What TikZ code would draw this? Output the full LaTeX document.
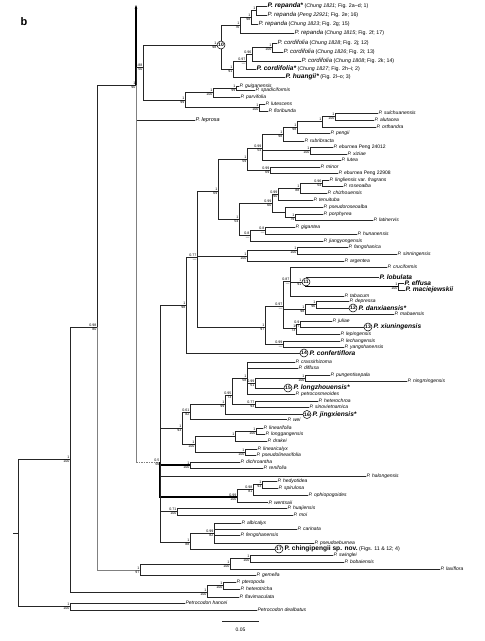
\documentclass[tikz,border=0pt]{standalone}
\usepackage{fontspec}
\setmainfont{Liberation Sans}
\usetikzlibrary{arrows.meta}
\newcommand\spl[3]{\node[spt] (#1-t) at (#1) {#2}; \node[spb] (#1-b) at (#1) {#3};}
\newcommand\ed[2]{\draw[br] (#1) |- (#2.west);}
\newcommand\ei[2]{\draw[br] (#1) |- (#2);}
\newcommand\pa[2]{{\fontsize{5.3}{6}\selectfont\mdseries\upshape\ (\textit{#1}; #2)}}
\begin{document}
\begin{tikzpicture}[x=1pt,y=-1pt,
  br/.style={line width=0.55pt, draw=black!85},
  gbr/.style={line width=0.55pt, draw=black!50},
  tbr/.style={line width=1.3pt, draw=black},
  lf/.style={anchor=west, inner sep=0.4pt, font=\fontsize{5}{6}\selectfont\itshape},
  blf/.style={lf, font=\fontsize{6.6}{7}\selectfont\bfseries\itshape},
  tlf/.style={lf, font=\fontsize{6}{7}\selectfont\itshape},
  spt/.style={anchor=south east, inner sep=0pt, yshift=0.5pt, xshift=-0.4pt, text height=2.6pt, text depth=0pt, font=\fontsize{3.6}{4}\selectfont},
  spb/.style={anchor=north east, inner sep=0pt, yshift=-0.5pt, xshift=-0.4pt, text height=2.6pt, text depth=0pt, font=\fontsize{3.6}{4}\selectfont},
  circ/.style={circle, draw, fill=white, inner sep=0pt, minimum size=8pt, line width=0.5pt, font=\fontsize{5}{5}\selectfont\bfseries}]
\useasboundingbox (0,0) rectangle (485,641);
\node[font=\fontsize{11}{12}\selectfont\bfseries] (lab) at (24,22) {b};
% ---------- internal nodes
\coordinate (rs) at (13,533);
\coordinate (rt) at (18,533);
\coordinate (A70) at (70,459);
\coordinate (PC) at (70,606.5);
\coordinate (N97) at (97,327);
\coordinate (PF) at (207,592);
\coordinate (PH) at (223,585.5);
\coordinate (N140) at (140,570);
\coordinate (BL) at (230,564);
\coordinate (SB) at (250,558.5);
\coordinate (N136) at (136,85);
\coordinate (arr) at (136,5);
\coordinate (pbend) at (136,462);
\coordinate (N143) at (143,67);
\coordinate (N10) at (221,45);
\coordinate (R3) at (240,25);
\coordinate (R2) at (251,17);
\coordinate (R1) at (256,10.5);
\coordinate (C4) at (233,69);
\coordinate (C3) at (246,61);
\coordinate (C2) at (252,54);
\coordinate (C1) at (272,47.5);
\coordinate (G3) at (185,100);
\coordinate (G2) at (213,92);
\coordinate (G1) at (236,88);
\coordinate (LL) at (259,107.5);
\coordinate (P0) at (160,462);
\coordinate (N0) at (186,305);
\coordinate (N1) at (197,257);
\coordinate (T) at (218,191);
\coordinate (U) at (247,159);
\coordinate (W) at (262,148);
\coordinate (Q) at (283,134);
\coordinate (Q1) at (297,127);
\coordinate (Q2) at (322,121);
\coordinate (Q3) at (335,116.5);
\coordinate (E) at (310,150.5);
\coordinate (M) at (270,170);
\coordinate (V) at (239,219);
\coordinate (L0) at (272,203);
\coordinate (L1) at (278,194);
\coordinate (L2) at (300,188);
\coordinate (L3) at (322,183);
\coordinate (L6) at (285,212);
\coordinate (L5) at (295,217);
\coordinate (X) at (250,235.5);
\coordinate (X1) at (265,230.5);
\coordinate (F) at (247,256);
\coordinate (F1) at (297,250.5);
\coordinate (B) at (265,327);
\coordinate (B1) at (283,306);
\coordinate (N87) at (290,281.5);
\coordinate (N11) at (306,282);
\coordinate (EM) at (398,286.5);
\coordinate (D2) at (305,309);
\coordinate (D1) at (316,304.5);
\coordinate (J2) at (296,328.5);
\coordinate (J1) at (300,324);
\coordinate (J3) at (283,344);
\coordinate (K) at (182,428);
\coordinate (K1) at (190,412);
\coordinate (S3) at (225,404.5);
\coordinate (S2) at (232,395);
\coordinate (S1) at (247,378);
\coordinate (PL) at (255,383);
\coordinate (PN) at (305,378);
\coordinate (HS) at (255,404);
\coordinate (K2) at (195,444);
\coordinate (K3) at (235,436);
\coordinate (K5) at (256,431);
\coordinate (K4) at (245,452);
\coordinate (DR) at (190,465);
\coordinate (H) at (237,497);
\coordinate (H2) at (253,489.5);
\coordinate (H1) at (262,484.5);
\coordinate (HJ) at (177,511.5);
\coordinate (A) at (190,542);
\coordinate (A1) at (214,533);
% ---------- leaves
\node[blf] (r1) at (267,6) {P. repanda*\pa{Chung 1821}{Fig. 2a–d; 1}};
\node[tlf] (r2) at (267,15) {P. repanda\pa{Peng 22921}{Fig. 2e; 16}};
\node[tlf] (r3) at (258,24) {P. repanda\pa{Chung 1823}{Fig. 2g; 15}};
\node[tlf] (r4) at (294,33) {P. repanda\pa{Chung 1815}{Fig. 2f; 17}};
\node[tlf] (c1) at (277,43) {P. cordifolia\pa{Chung 1828}{Fig. 2j; 12}};
\node[tlf] (c2) at (283,52) {P. cordifolia\pa{Chung 1826}{Fig. 2i; 13}};
\node[tlf] (c3) at (301,61) {P. cordifolia\pa{Chung 1808}{Fig. 2k; 14}};
\node[blf] (c4) at (256,69) {P. cordifolia*\pa{Chung 1827}{Fig. 2h–i; 2}};
\node[blf] (hu) at (285,77) {P. huangii*{\fontsize{5.3}{6}\selectfont\mdseries\upshape\ (Fig. 2l–o; 3)}};
\node[lf] (gui) at (239,86) {P. guiganensis};
\node[lf] (spa) at (255,90.5) {P. spadiciformis};
\node[lf] (par) at (240,97) {P. parvifolia};
\node[lf] (lut) at (265,104) {P. lutescens};
\node[lf] (flo) at (268,111) {P. floribunda};
\node[lf, font=\fontsize{5.5}{6}\selectfont\itshape] (lep) at (195,120) {P. leprosa};
\node[lf] (sul) at (378,113) {P. sulchuanensis};
\node[lf] (alu) at (374,120) {P. alutacea};
\node[lf] (ort) at (376,127) {P. orthandra};
\node[lf] (pen) at (330,133) {P. pengii};
\node[lf] (rub) at (304,141) {P. rubribracta};
\node[lf] (eb1) at (333,147) {P. eburnea \textup{Peng 24012}};
\node[lf] (xiz) at (347,154) {P. xiziae};
\node[lf] (lte) at (341,160) {P. lutea};
\node[lf] (min) at (320,167) {P. minor};
\node[lf] (eb2) at (338,173) {P. eburnea \textup{Peng 22908}};
\node[lf] (lin) at (329,180) {P. lingliensis \textup{var.} fragrans};
\node[lf] (ros) at (343,186) {P. roseoalba};
\node[lf] (chi) at (327,193) {P. chizhouensis};
\node[lf] (ten) at (313,200) {P. tenuituba};
\node[lf] (psr) at (323,207) {P. pseudoroseoalba};
\node[lf] (por) at (323,214) {P. porphyrea};
\node[lf] (lat) at (373,220) {P. latinervis};
\node[lf] (gig) at (295,227) {P. gigantea};
\node[lf] (hun) at (357,234) {P. hunanensis};
\node[lf] (jia) at (323,241) {P. jiangyongensis};
\node[lf] (fan) at (348,247) {P. fangshanica};
\node[lf] (sin) at (397,254) {P. sinningensis};
\node[lf] (arg) at (344,261) {P. argentea};
\node[lf] (cru) at (387,267) {P. cruciformis};
\node[blf] (lob) at (379,277.5) {P. lobulata};
\node[blf] (eff) at (404,283) {P. effusa};
\node[blf] (mac) at (405,290) {P. maciejewskii};
\node[lf] (tab) at (344,296) {P. tabacum};
\node[lf] (dep) at (349,301) {P. depressa};
\node[circ] (c12) at (353,308) {12};
\node[blf] (dan) at ([xshift=0.8pt]c12.east) {P. danxiaensis*};
\node[lf] (mab) at (394,314) {P. mabaensis};
\node[lf] (jul) at (332,321) {P. juliae};
\node[circ] (c13) at (368,327) {13};
\node[blf] (xiu) at ([xshift=0.8pt]c13.east) {P. xiuningensis};
\node[lf] (lep2) at (340,334) {P. lepingensis};
\node[lf] (lec) at (340,341) {P. lechangensis};
\node[lf] (yan) at (344,347) {P. yangshanensis};
\node[circ] (c14) at (304,353) {14};
\node[blf] (con) at ([xshift=0.8pt]c14.east) {P. confertiflora};
\node[lf] (cra) at (295,362) {P. crassirhizoma};
\node[lf] (dif) at (298,368) {P. diffusa};
\node[lf] (pun) at (330,375) {P. pungentisepala};
\node[lf] (nin) at (407,381) {P. ningmingensis};
\node[circ] (c15) at (288,388) {15};
\node[blf] (lon) at ([xshift=0.8pt]c15.east) {P. longzhouensis*};
\node[lf] (pet) at (295,394) {P. petrocosmeoides};
\node[lf] (het) at (318,401) {P. heterochroa};
\node[lf] (sinv) at (309,407) {P. sinovietnamica};
\node[circ] (c16) at (307,414.5) {16};
\node[blf] (jin) at ([xshift=0.8pt]c16.east) {P. jingxiensis*};
\node[lf] (wei) at (287,419.5) {P. wei};
\node[lf] (lnf) at (263,428) {P. linearifolia};
\node[lf] (lng) at (265,434) {P. longgangensis};
\node[lf] (dra) at (267,441) {P. drakei};
\node[lf] (lcx) at (257,449) {P. linearicalyx};
\node[lf] (pli) at (256,455) {P. pseudolinearifolia};
\node[lf] (dic) at (240,462) {P. dichroantha};
\node[lf] (ren) at (263,468) {P. renifolia};
\node[lf] (hal) at (366,476) {P. halongensis};
\node[lf] (hed) at (277,481) {P. hedyotidea};
\node[lf] (spi) at (278,488) {P. spirulosa};
\node[lf] (oph) at (308,495) {P. ophiopogoides};
\node[lf] (wen) at (268,502.5) {P. wentsaii};
\node[lf] (hua) at (287,508.5) {P. huajiensis};
\node[lf] (moi) at (293,515) {P. moi};
\node[lf] (alb) at (241,523) {P. albicalyx};
\node[lf] (car) at (297,529) {P. carinata};
\node[lf] (fen) at (240,535) {P. fengshanensis};
\node[lf] (pse) at (314,543) {P. pseudoeburnea};
\node[circ] (c17) at (279,549) {17};
\node[lf, font=\fontsize{6.6}{7}\selectfont\bfseries] (chg) at ([xshift=0.8pt]c17.east) {P. chingipengii sp. nov.{\fontsize{5.3}{6}\selectfont\mdseries\ (Figs. 11 \& 12; 4)}};
\node[lf] (swi) at (333,555) {P. swinglei};
\node[lf] (bob) at (344,562) {P. bobaiensis};
\node[lf] (lax) at (440,569) {P. laxiflora};
\node[lf] (gem) at (256,575.5) {P. gemella};
\node[lf] (pte) at (236,582) {P. pteropoda};
\node[lf] (hete) at (240,589) {P. heterotricha};
\node[lf] (fla) at (239,597) {P. flavimaculata};
\node[lf] (han) at (185,603) {Petrocodon hancei};
\node[lf] (dea) at (257,610) {Petrocodon dealbatus};
% ---------- branches
\draw[br] (rs) -- (rt);
\ei{rt}{A70} \ei{rt}{PC}
\ed{PC}{han} \ed{PC}{dea}
\ei{A70}{N97} \ei{A70}{PF}
\ei{PF}{PH} \ed{PF}{fla}
\ed{PH}{pte} \ed{PH}{hete}
\ei{N97}{N136} \draw[gbr] (N97) |- (N140);
\ei{N140}{BL} \ed{N140}{gem}
\ei{BL}{SB} \ed{BL}{lax}
\ed{SB}{swi} \ed{SB}{bob}
\draw[tbr, -{Stealth[length=3.5pt,width=2.5pt]}] (N136) -- (arr);
\ei{N136}{N143} \ed{N136}{lep}
\draw[gbr] (N136) -- (pbend);
\draw[gbr, dash pattern=on 1.5pt off 1pt] (pbend) -- (P0);
\ei{N143}{N10} \ei{N143}{G3}
\ei{N10}{R3} \ei{N10}{C4}
\ei{R3}{R2} \ed{R3}{r4}
\ei{R2}{R1} \ed{R2}{r3}
\ed{R1}{r1} \ed{R1}{r2}
\ei{C4}{C3} \ed{C4}{hu}
\ei{C3}{C2} \ed{C3}{c4}
\ei{C2}{C1} \ed{C2}{c3}
\ed{C1}{c1} \ed{C1}{c2}
\ei{G3}{G2} \ei{G3}{LL}
\ei{G2}{G1} \ed{G2}{par}
\ed{G1}{gui} \ed{G1}{spa}
\ed{LL}{lut} \ed{LL}{flo}
\ei{P0}{N0} \ei{P0}{K} \draw[tbr] (P0) |- (DR); \ed{P0}{hal}
\draw[tbr] (P0) |- (H); \ei{P0}{HJ} \ei{P0}{A}
\ei{N0}{N1} \ed{N0}{c14}
\ei{N1}{T} \ei{N1}{F} \ei{N1}{B}
\ei{T}{U} \ei{T}{V}
\ei{U}{W} \ei{U}{M}
\ei{W}{Q} \ei{W}{E} \ed{W}{lte}
\ei{Q}{Q1} \ed{Q}{rub}
\ei{Q1}{Q2} \ed{Q1}{pen}
\ei{Q2}{Q3} \ed{Q2}{ort}
\ed{Q3}{sul} \ed{Q3}{alu}
\ed{E}{eb1} \ed{E}{xiz}
\ed{M}{min} \ed{M}{eb2}
\ei{V}{L0} \ei{V}{X}
\ei{L0}{L1} \ei{L0}{L6}
\ei{L1}{L2} \ed{L1}{ten}
\ei{L2}{L3} \ed{L2}{chi}
\ed{L3}{lin} \ed{L3}{ros}
\ed{L6}{psr} \ei{L6}{L5}
\ed{L5}{por} \ed{L5}{lat}
\ei{X}{X1} \ed{X}{jia}
\ed{X1}{gig} \ed{X1}{hun}
\ei{F}{F1} \ed{F}{arg}
\ed{F1}{fan} \ed{F1}{sin}
\ei{B}{B1} \ei{B}{J3}
\ei{B1}{N87} \ei{B1}{D2} \ei{B1}{J2}
\ed{N87}{cru} \ei{N87}{N11} \ed{N87}{tab}
\ed{N11}{lob} \draw[tbr] (N11) |- (EM);
\ed{EM}{eff} \ed{EM}{mac}
\ei{D2}{D1} \ed{D2}{mab}
\ed{D1}{dep} \ed{D1}{c12}
\ei{J2}{J1} \ed{J2}{lep2}
\ed{J1}{jul} \ed{J1}{c13}
\ed{J3}{lec} \ed{J3}{yan}
\ei{K}{K1} \ei{K}{K2}
\ei{K1}{S3} \ed{K1}{wei}
\ei{S3}{S2} \ed{S3}{c16}
\ei{S2}{S1} \ei{S2}{HS}
\ed{S1}{cra} \ed{S1}{dif} \ei{S1}{PL} \ed{S1}{pet}
\ei{PL}{PN} \ed{PL}{c15}
\ed{PN}{pun} \ed{PN}{nin}
\ed{HS}{het} \ed{HS}{sinv}
\ei{K2}{K3} \ei{K2}{K4}
\ei{K3}{K5} \ed{K3}{dra}
\ed{K5}{lnf} \ed{K5}{lng}
\ed{K4}{lcx} \ed{K4}{pli}
\ed{DR}{dic} \ed{DR}{ren}
\ei{H}{H2} \ed{H}{wen}
\ei{H2}{H1} \ed{H2}{oph}
\ed{H1}{hed} \ed{H1}{spi}
\ed{HJ}{hua} \ed{HJ}{moi}
\ei{A}{A1} \ed{A}{c17}
\ed{A1}{alb} \ed{A1}{car} \ed{A1}{fen} \ed{A1}{pse}
% ---------- circled internal nodes
\node[circ] (k10) at (N10) {10};
\node[circ] (k11) at (N11) {11};
\node[spt, xshift=-4pt] (N10-t) at (N10) {1};
\node[spb, xshift=-4pt] (N10-b) at (N10) {98};
\node[spt, xshift=-4pt] (N11-t) at (N11) {1};
\node[spb, xshift=-4pt] (N11-b) at (N11) {91};
% ---------- support values
\spl{A70}{1}{100} \spl{PC}{1}{100} \spl{N97}{0.98}{80} \spl{N136}{1}{90}
\spl{N143}{0.88}{50} \spl{R3}{1}{76} \spl{R2}{1}{98} \spl{R1}{1}{}
\spl{C4}{1}{91} \spl{C3}{0.97}{—} \spl{C2}{0.96}{} \spl{C1}{1}{100}
\spl{G3}{1}{99} \spl{G2}{1}{100} \spl{G1}{1}{99} \spl{LL}{1}{100}
\spl{P0}{0.5}{56} \spl{N0}{1}{98} \spl{N1}{0.77}{—} \spl{T}{1}{69}
\spl{U}{1}{59} \spl{W}{0.99}{54} \spl{Q}{1}{98} \spl{Q1}{1}{98}
\spl{Q2}{1}{} \spl{Q3}{1}{100} \spl{E}{1}{100} \spl{M}{0.99}{69}
\spl{V}{1}{54} \spl{L0}{0.99}{60} \spl{L1}{0.99}{90} \spl{L2}{1}{88}
\spl{L3}{0.96}{54} \spl{L5}{1}{79} \spl{X}{0.8}{—} \spl{X1}{0.8}{—}
\spl{F}{1}{100} \spl{F1}{1}{100} \spl{B}{1}{97} \spl{B1}{0.97}{—}
\spl{N87}{0.87}{—} \spl{EM}{1}{100} \spl{D2}{1}{98} \spl{D1}{1}{96}
\spl{J2}{1}{73} \spl{J1}{0.9}{97} \spl{J3}{0.99}{—}
\spl{K}{1}{93} \spl{K1}{0.61}{82} \spl{S3}{1}{99} \spl{S2}{0.95}{73}
\spl{S1}{1}{58} \spl{PL}{0.99}{51} \spl{PN}{1}{100} \spl{HS}{0.77}{93}
\spl{K2}{1}{100} \spl{K3}{1}{} \spl{K5}{1}{100} \spl{K4}{1}{100}
\spl{DR}{1}{100} \spl{H}{0.99}{100} \spl{H2}{0.98}{81} \spl{H1}{1}{93}
\spl{HJ}{0.71}{100} \spl{A}{1}{88} \spl{A1}{0.99}{82}
\spl{N140}{1}{97} \spl{BL}{1}{100} \spl{SB}{1}{100} \spl{PF}{1}{100} \spl{PH}{1}{100}
% ---------- scale bar
\coordinate (sb1) at (222,621);
\coordinate (sb2) at (259,621);
\draw[br] (sb1) -- (sb2);
\node[font=\fontsize{5}{6}\selectfont] (sbl) at (240.5,630) {0.05};
\end{tikzpicture}
\end{document}
